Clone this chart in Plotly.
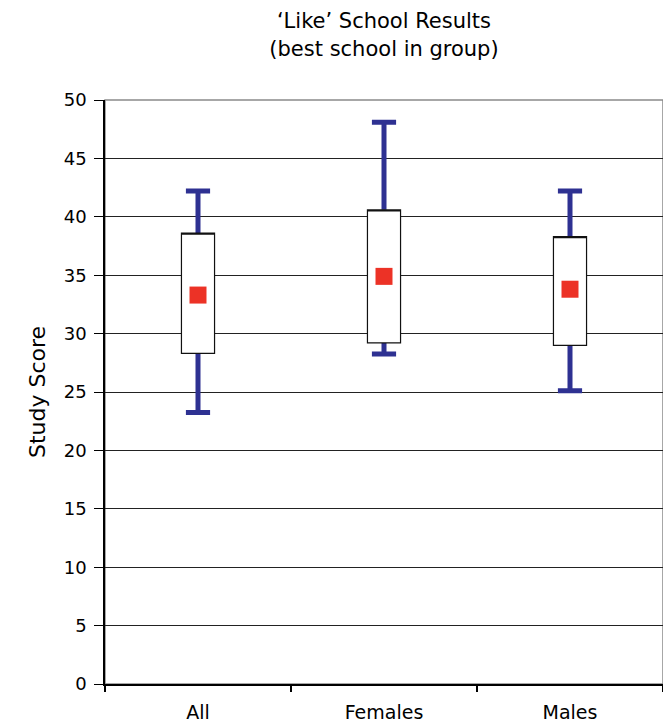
import plotly.graph_objects as go

categories = ["All", "Females", "Males"]
whisker_min = [23.25, 28.25, 25.1]
box_q1 = [28.3, 29.2, 29.0]
box_q3 = [38.6, 40.6, 38.3]
whisker_max = [42.2, 48.1, 42.2]
mean_score = [33.3, 34.9, 33.8]

BLUE = "#2E3192"
RED = "#EC3226"
FONT = "DejaVu Sans, Liberation Sans, Arial, sans-serif"

fig = go.Figure()

# whiskers (blue, thick): collapsed box at the mean, later hidden by the white box
fig.add_trace(go.Box(
    x=categories, q1=mean_score, q3=mean_score, median=mean_score,
    lowerfence=whisker_min, upperfence=whisker_max,
    line=dict(color=BLUE, width=5), fillcolor=BLUE,
    width=0.13, whiskerwidth=1.0, boxpoints=False,
    hoverinfo="skip", showlegend=False,
))
# white box with thin black outline
fig.add_trace(go.Box(
    x=categories, q1=box_q1, q3=box_q3, median=box_q3,
    lowerfence=box_q1, upperfence=box_q3,
    line=dict(color="#111111", width=1.2), fillcolor="white",
    width=0.178, whiskerwidth=0, boxpoints=False,
    hoverinfo="skip", showlegend=False,
))
# mean markers
fig.add_trace(go.Scatter(
    x=categories, y=mean_score, mode="markers",
    marker=dict(symbol="square", size=17, color=RED, line=dict(width=0)),
    showlegend=False,
))

fig.update_layout(
    width=671, height=726,
    margin=dict(l=97, r=16, t=92, b=50),
    paper_bgcolor="white", plot_bgcolor="white",
    boxmode="overlay",
    font=dict(family=FONT, color="black", size=19),
    title=dict(
        text="‘Like’ School Results<br>(best school in group)",
        x=0.5, xref="paper", xanchor="center",
        y=0.972, yref="container", yanchor="top",
        font=dict(family=FONT, size=21, color="black"),
    ),
    shapes=[dict(type="rect", xref="paper", yref="paper", x0=0, x1=1, y0=0, y1=1,
                 line=dict(color="#8a8a8a", width=1.5), layer="below")],
)
fig.update_xaxes(
    type="category", range=[-0.5, 2.5], automargin=False,
    tickson="boundaries", ticks="outside", ticklen=6, tickwidth=1.5, tickcolor="black",
    showline=True, linecolor="black", linewidth=2,
    showgrid=False, zeroline=False, ticklabelstandoff=10,
    tickfont=dict(family=FONT, size=19, color="black"),
)
fig.update_yaxes(
    range=[0, 50], dtick=5, tick0=0, automargin=False,
    ticks="outside", ticklen=9, tickwidth=1.2, tickcolor="black",
    showline=True, linecolor="black", linewidth=1.5,
    showgrid=True, gridcolor="#222222", gridwidth=1,
    zeroline=False, ticklabelstandoff=4,
    tickfont=dict(family=FONT, size=18, color="black"),
    title=dict(text="Study Score", font=dict(family=FONT, size=22, color="black"), standoff=12),
)

fig.write_html("out.html")
